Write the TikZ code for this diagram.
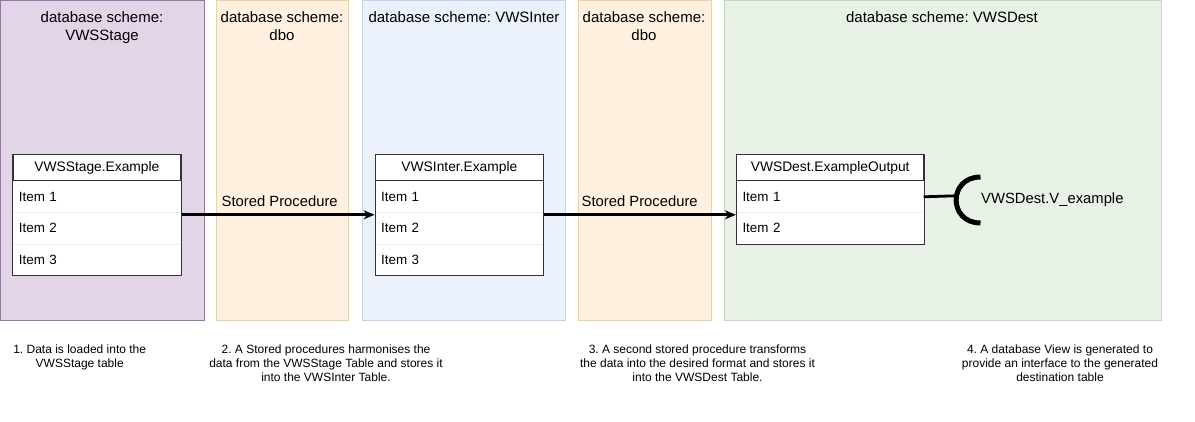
\documentclass[tikz,border=0pt]{standalone}
\usepackage{fontspec}
\setmainfont{Liberation Sans}
\usetikzlibrary{positioning,fit,arrows.meta}
\frenchspacing

\definecolor{stagefill}{HTML}{E1D5E7}
\definecolor{stageline}{HTML}{9673A6}
\definecolor{dbofill}{HTML}{FFF0E0}
\definecolor{dboline}{HTML}{F0D196}
\definecolor{interfill}{HTML}{EAF1FB}
\definecolor{interline}{HTML}{C3D3EC}
\definecolor{destfill}{HTML}{E8F2E6}
\definecolor{destline}{HTML}{BFDAB6}
\definecolor{rowline}{HTML}{EEEEEE}

\tikzset{
  lanetitle/.style={anchor=north, inner sep=0pt, align=center,
    font=\fontsize{15}{17.5}\selectfont},
  tblhead/.style={draw=black!80, line width=0.8pt, fill=white, anchor=north west,
    minimum height=26pt, inner sep=0pt, font=\fontsize{13.8}{16}\selectfont,
    text height=10pt, text depth=3pt},
  tblrow/.style={fill=white, anchor=north west, minimum height=31pt,
    inner xsep=6pt, inner ysep=0pt, text width=#1, align=left,
    font=\fontsize{13.4}{16}\selectfont},
  tblframe/.style={draw=black!80, line width=0.8pt, inner sep=0pt},
  rowsep/.style={draw=rowline, line width=0.6pt},
  flow/.style={-{Stealth[length=11pt,width=9pt]}, line width=2.8pt},
  proc/.style={inner sep=0pt, font=\fontsize{14.8}{17}\selectfont},
  note/.style={anchor=north, inner sep=0pt, align=center,
    font=\fontsize{12}{14}\selectfont}
}

\begin{document}
\begin{tikzpicture}[x=1pt,y=-1pt]
\useasboundingbox (0,0) rectangle (1195,421);

% lanes
\draw[fill=stagefill, draw=stageline, line width=0.9pt] (0.5,0.5) rectangle (204,320.5);
\draw[fill=dbofill, draw=dboline, line width=0.9pt] (216,0.5) rectangle (348,320.5);
\draw[fill=interfill, draw=interline, line width=0.9pt] (362.5,0.5) rectangle (565,320.5);
\draw[fill=dbofill, draw=dboline, line width=0.9pt] (578,0.5) rectangle (711,320.5);
\draw[fill=destfill, draw=destline, line width=0.9pt] (724.5,0.5) rectangle (1161,320.5);

\node[lanetitle] (t1) at (102,11.8) {database scheme:\\VWSStage};
\node[lanetitle] (t2) at (282,11.8) {database scheme:\\dbo};
\node[lanetitle] (t3) at (464,11.8) {database scheme: VWSInter};
\node[lanetitle] (t4) at (644,11.8) {database scheme:\\dbo};
\node[lanetitle] (t5) at (942,11.8) {database scheme: VWSDest};

% table VWSStage
\node[tblhead, minimum width=167.6pt] (stageh) at (12.7,154.3) {VWSStage.Example};
\node[tblrow=155.6pt] (stage1) at (stageh.south west) {Item 1};
\node[tblrow=155.6pt] (stage2) at (stage1.south west) {Item 2};
\node[tblrow=155.6pt] (stage3) at (stage2.south west) {Item 3};
\draw[rowsep] (stage1.south west) -- (stage1.south east);
\draw[rowsep] (stage2.south west) -- (stage2.south east);
\node[tblframe, fit=(stageh)(stage3)] (stage) {};

% table VWSInter
\node[tblhead, minimum width=168pt] (interh) at (375,154.3) {VWSInter.Example};
\node[tblrow=156pt] (inter1) at (interh.south west) {Item 1};
\node[tblrow=156pt] (inter2) at (inter1.south west) {Item 2};
\node[tblrow=156pt] (inter3) at (inter2.south west) {Item 3};
\draw[rowsep] (inter1.south west) -- (inter1.south east);
\draw[rowsep] (inter2.south west) -- (inter2.south east);
\node[tblframe, fit=(interh)(inter3)] (inter) {};

% table VWSDest
\node[tblhead, minimum width=187pt] (desth) at (736.3,154.3) {VWSDest.ExampleOutput};
\node[tblrow=175pt] (dest1) at (desth.south west) {Item 1};
\node[tblrow=175pt] (dest2) at (dest1.south west) {Item 2};
\draw[rowsep] (dest1.south west) -- (dest1.south east);
\node[tblframe, fit=(desth)(dest2)] (dest) {};

% procedures
\draw[flow] (stage.east) -- (inter.west);
\node[proc] (proc1) at (279.7,201) {Stored Procedure};
\draw[flow] (inter.east) -- (inter.east -| dest.west);
\node[proc] (proc2) at (639.7,201) {Stored Procedure};

% view
\coordinate (sock) at (956,195.8);
\draw[line width=2.8pt] (dest1.east) -- (sock);
\draw[line width=5pt] (980.5,177) .. controls (948,177) and (948,223) .. (980.5,223);
\node[proc, anchor=west] (view) at (981,200) {VWSDest.V\_example};

% notes
\node[note] (n1) at (79.7,344.5) {1. Data is loaded into the\\VWSStage table};
\node[note] (n2) at (326,344.5) {2. A Stored procedures harmonises the\\data from the VWSStage Table and stores it\\into the VWSInter Table.};
\node[note] (n3) at (697.5,344.5) {3. A second stored procedure transforms\\the data into the desired format and stores it\\into the VWSDest Table.};
\node[note] (n4) at (1060,344.5) {4. A database View is generated to\\provide an interface to the generated\\destination table};
\end{tikzpicture}
\end{document}
